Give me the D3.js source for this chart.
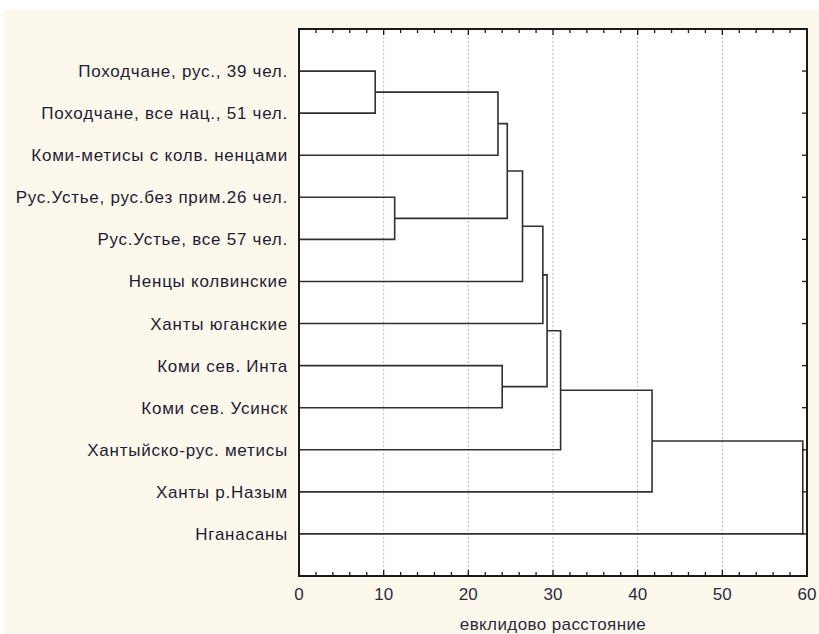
<!DOCTYPE html>
<html>
<head>
<meta charset="utf-8">
<script src="https://cdn.jsdelivr.net/npm/d3@7"></script>
<style>
  html, body { margin: 0; padding: 0; background: #fff; }
  svg { display: block; }
  .leaf-label { font-family: "Liberation Sans", Arial, sans-serif; font-size: 17px; fill: #1d1d35; letter-spacing: 0.75px; }
  .tick-label { font-family: "Liberation Sans", Arial, sans-serif; font-size: 17px; fill: #2a2a40; }
  .axis-title { font-family: "Liberation Sans", Arial, sans-serif; font-size: 17px; fill: #2a2a40; letter-spacing: 0.4px; }
  .link { fill: none; stroke: #303030; stroke-width: 1.6; }
  .grid { stroke: #bdbdbd; stroke-width: 1; stroke-dasharray: 2 2; }
  .frame { fill: #fff; stroke: #1a1a1a; stroke-width: 2; }
  .tick { stroke: #1a1a1a; stroke-width: 1.3; }
</style>
</head>
<body>
<div class="chart"></div>
<script>
function wrapper(){

  // leaves, top to bottom
  var labels = [
    "Походчане, рус., 39 чел.",
    "Походчане, все нац., 51 чел.",
    "Коми-метисы с колв. ненцами",
    "Рус.Устье, рус.без прим.26 чел.",
    "Рус.Устье, все 57 чел.",
    "Ненцы колвинские",
    "Ханты юганские",
    "Коми сев. Инта",
    "Коми сев. Усинск",
    "Хантыйско-рус. метисы",
    "Ханты р.Назым",
    "Нганасаны"
  ];

  // merges: node ids 0..11 are leaves, merge k creates node 12+k
  var mergeA      = [0, 3, 12, 7, 14, 16, 17, 18, 19, 20, 21];
  var mergeB      = [1, 4, 2, 8, 13, 5, 6, 15, 9, 10, 11];
  var mergeHeight = [9.0, 11.3, 23.5, 24.0, 24.6, 26.4, 28.8, 29.3, 30.9, 41.7, 59.5];

  var majorTicks = [0, 10, 20, 30, 40, 50, 60];
  var xTitle = "евклидово расстояние";

  var w = 819, h = 634;
  var plot = {left: 299, right: 807, top: 29, bottom: 576};

  var svg = d3.select("div.chart")
              .append("svg")
              .attr("width", w)
              .attr("height", h);

  //cream background
  svg.append("rect")
     .attr("x", 4).attr("y", 10)
     .attr("width", w - 4).attr("height", h - 10)
     .attr("fill", "#fdf8ec");

  var x = d3.scaleLinear()
            .domain([0, 60])
            .range([plot.left, plot.right]);

  var y = d3.scalePoint()
            .domain(d3.range(labels.length))
            .range([plot.top, plot.bottom])
            .padding(1);

  //plot area
  svg.append("rect")
     .attr("class", "frame")
     .attr("x", plot.left).attr("y", plot.top)
     .attr("width", plot.right - plot.left)
     .attr("height", plot.bottom - plot.top)
     .attr("stroke", "none");

  //grid
  svg.append("g")
     .selectAll("line")
     .data(majorTicks.filter(d => d > 0 && d < 60))
     .enter()
     .append("line")
       .attr("class", "grid")
       .attr("x1", d => x(d)).attr("x2", d => x(d))
       .attr("y1", plot.top).attr("y2", plot.bottom);

  //node positions
  var nodeX = {}, nodeY = {};
  labels.forEach(function(l, i){
    nodeX[i] = 0;
    nodeY[i] = y(i);
  });

  var links = [];
  for (var k = 0; k < mergeHeight.length; k++) {
    var a = mergeA[k], b = mergeB[k], id = labels.length + k;
    links.push({a: a, b: b, h: mergeHeight[k]});
    nodeX[id] = mergeHeight[k];
    nodeY[id] = (nodeY[a] + nodeY[b]) / 2;
  }

  svg.append("g")
     .selectAll(".link")
     .data(links)
     .enter()
     .append("path")
       .attr("class", "link")
       .attr("d", d => `M${x(nodeX[d.a])},${nodeY[d.a]}H${x(d.h)}V${nodeY[d.b]}H${x(nodeX[d.b])}`);

  //frame on top
  svg.append("rect")
     .attr("class", "frame")
     .attr("x", plot.left).attr("y", plot.top)
     .attr("width", plot.right - plot.left)
     .attr("height", plot.bottom - plot.top)
     .style("fill", "none");

  //bottom + top ticks (inward)
  var allTicks = d3.range(0, 61, 2);
  var tickG = svg.append("g");
  allTicks.forEach(function(t){
    var len = (t % 10 === 0) ? 6 : 4;
    tickG.append("line").attr("class", "tick")
         .attr("x1", x(t)).attr("x2", x(t))
         .attr("y1", plot.bottom).attr("y2", plot.bottom - len);
    tickG.append("line").attr("class", "tick")
         .attr("x1", x(t)).attr("x2", x(t))
         .attr("y1", plot.top).attr("y2", plot.top + len);
  });

  //right ticks
  labels.forEach(function(l, i){
    tickG.append("line").attr("class", "tick")
         .attr("x1", plot.right).attr("x2", plot.right - 5)
         .attr("y1", y(i)).attr("y2", y(i));
  });

  //tick labels
  svg.append("g")
     .selectAll("text")
     .data(majorTicks)
     .enter()
     .append("text")
       .attr("class", "tick-label")
       .attr("x", d => x(d))
       .attr("y", plot.bottom + 24)
       .attr("text-anchor", "middle")
       .text(d => d);

  //leaf labels
  svg.append("g")
     .selectAll("text")
     .data(labels)
     .enter()
     .append("text")
       .attr("class", "leaf-label")
       .attr("x", plot.left - 11)
       .attr("y", (d, i) => y(i) + 6)
       .attr("text-anchor", "end")
       .text(d => d);

  svg.append("text")
     .attr("class", "axis-title")
     .attr("x", (plot.left + plot.right) / 2)
     .attr("y", h - 4)
     .attr("text-anchor", "middle")
     .text(xTitle);
}
window.onload = wrapper;
</script>
</body>
</html>
